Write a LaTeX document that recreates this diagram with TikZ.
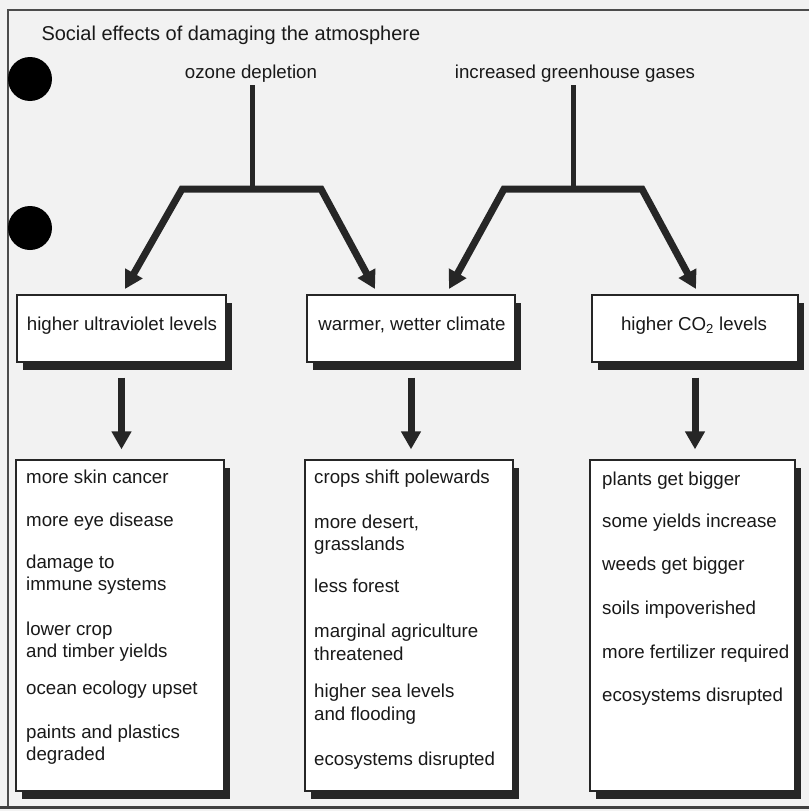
\documentclass[tikz,border=0pt]{standalone}
\usepackage{fontspec}
\setmainfont{Liberation Sans}
\usetikzlibrary{arrows.meta,shadows}
\begin{document}
\begin{tikzpicture}[x=1pt,y=-1pt,
  every node/.style={font=\fontsize{18.7}{22}\selectfont, text=black!90},
  box/.style={draw=black!85, line width=1.3pt, fill=white, rectangle, inner sep=0pt,
    drop shadow={shadow xshift=6pt, shadow yshift=-8pt, opacity=1, fill=black!85}},
  item/.style={anchor=base west, inner sep=0pt},
  fat/.style={line width=7pt, draw=black!85},
  tipped/.style={-{Triangle[length=18pt,width=19pt]}},
  bothtipped/.style={{Triangle[length=18pt,width=19pt]}-{Triangle[length=18pt,width=19pt]}},
]
\useasboundingbox (0,0) rectangle (809,811);
\fill[black!5] (0,0) rectangle (809,811);
% frame
\draw[line width=1.6pt, black!70] (809,10) -- (8,10) -- (8,808);
\draw[line width=3pt, black!75] (0,807) -- (809,807);
% punch holes
\fill[black] (30,79) circle[radius=22pt];
\fill[black] (30,228) circle[radius=22pt];
% title
\node[anchor=base west, font=\fontsize{20}{24}\selectfont] (title) at (38,40) {Social effects of damaging the atmosphere};
% sources
\node[anchor=base] (oz) at (251,78) {ozone depletion};
\node[anchor=base] (gh) at (575,78) {increased greenhouse gases};
% top boxes
\node[box, minimum width=209pt, minimum height=67pt] (u) at (121.5,328.5) {};
\node[box, minimum width=208pt, minimum height=67pt] (w) at (411,328.5) {};
\node[box, minimum width=206pt, minimum height=67pt] (c) at (695,328.5) {};
\node[anchor=base] (ut) at (122,330) {higher ultraviolet levels};
\node[anchor=base] (wt) at (412,330) {warmer, wetter climate};
\node[anchor=base] (ct) at (694,330) {higher CO\textsubscript{2} levels};
% bottom boxes
\node[box, minimum width=208pt, minimum height=331pt] (ue) at (120,625.5) {};
\node[box, minimum width=208pt, minimum height=331pt] (we) at (409,625.5) {};
\node[box, minimum width=205pt, minimum height=331pt] (ce) at (692.5,625.5) {};
% junctions
\coordinate (ozm) at (252,189);
\coordinate (ozl) at (182,189);
\coordinate (ozr) at (321,189);
\coordinate (ghm) at (573,189);
\coordinate (ghl) at (504,189);
\coordinate (ghr) at (642,189);
\coordinate (t1) at (125,289);
\coordinate (t2) at (375,289);
\coordinate (t3) at (449,289);
\coordinate (t4) at (696,289);
% trunks
\draw[line width=5pt, draw=black!85] (oz.south -| ozm) -- (ozm);
\draw[line width=5pt, draw=black!85] (gh.south -| ghm) -- (ghm);
% forks
\draw[fat, bothtipped, line join=miter] (t1) -- (ozl) -- (ozr) -- (t2);
\draw[fat, bothtipped, line join=miter] (t3) -- (ghl) -- (ghr) -- (t4);
% down arrows
\draw[fat, tipped, shorten <=15pt, shorten >=10pt] (u.south) -- (u.south |- ue.north);
\draw[fat, tipped, shorten <=15pt, shorten >=10pt] (w.south) -- (w.south |- we.north);
\draw[fat, tipped, shorten <=15pt, shorten >=10pt] (c.south) -- (c.south |- ce.north);
% lists
\foreach \yy/\txt [count=\i] in {483/more skin cancer, 526/more eye disease, 568/damage to, 590/immune systems, 635/lower crop, 657/and timber yields, 694/ocean ecology upset, 738/paints and plastics, 760/degraded}
  \node[item] (a\i) at (26,\yy) {\txt};
\foreach \yy/\txt [count=\i] in {483/crops shift polewards, {528/more desert,}, 550/grasslands, 592/less forest, 637/marginal agriculture, 660/threatened, 697/higher sea levels, 720/and flooding, 765/ecosystems disrupted}
  \node[item] (b\i) at (314,\yy) {\txt};
\foreach \yy/\txt [count=\i] in {485/plants get bigger, 527/some yields increase, 570/weeds get bigger, 614/soils impoverished, 658/more fertilizer required, 701/ecosystems disrupted}
  \node[item] (c\i) at (602,\yy) {\txt};
\end{tikzpicture}
\end{document}
